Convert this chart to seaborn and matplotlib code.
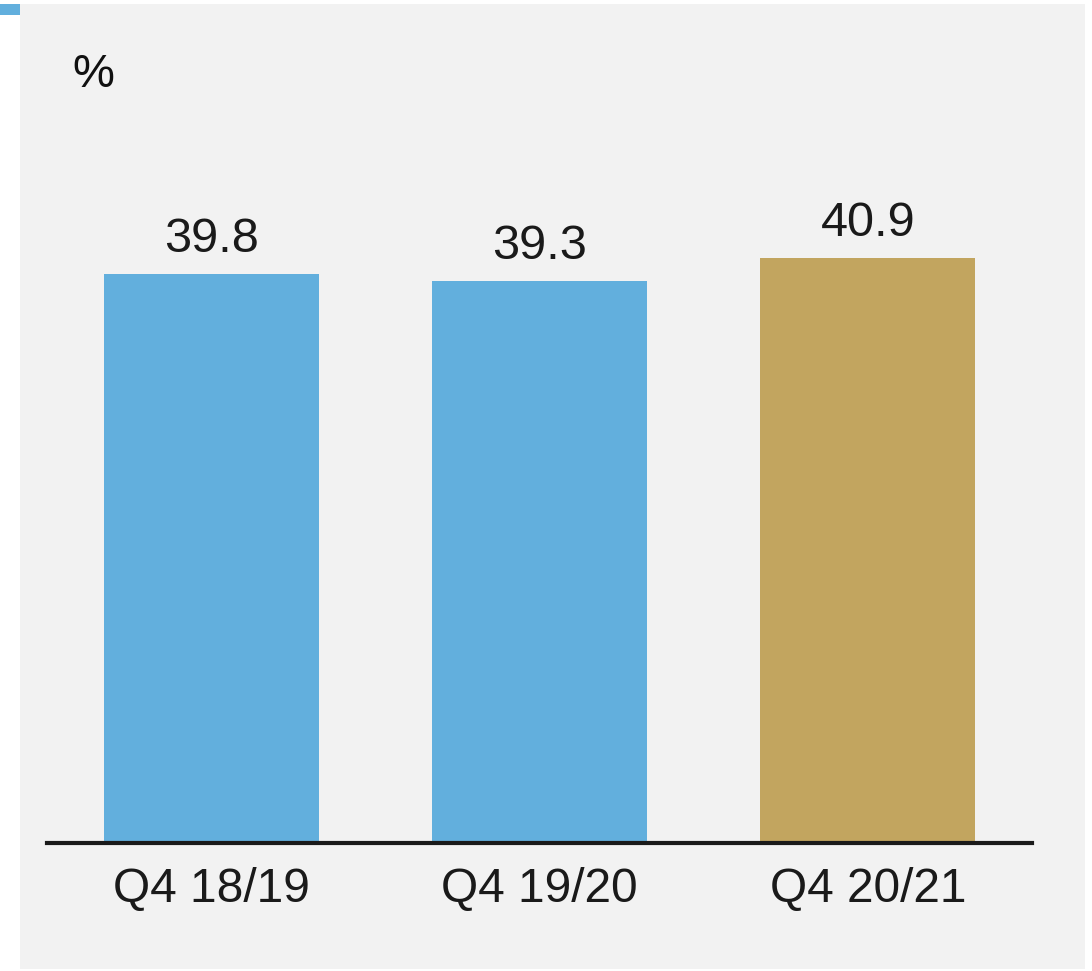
import matplotlib
matplotlib.use("Agg")
import matplotlib.pyplot as plt
import seaborn as sns
import pandas as pd
from matplotlib.patches import Rectangle

periods = ["Q4 18/19", "Q4 19/20", "Q4 20/21"]
values = [39.8, 39.3, 40.9]
bar_colors = ["#62AFDD", "#62AFDD", "#C2A55F"]

df = pd.DataFrame({"period": periods, "value": values})

sns.set_theme(style="white")
plt.rcParams["font.family"] = ["Liberation Sans", "DejaVu Sans"]

W, H = 1092, 971
fig = plt.figure(figsize=(W / 100, H / 100), dpi=100, facecolor="white")

# grey panel and small accent square, kept behind the axes
fig.patches.append(Rectangle((20 / W, 1 - 969 / H), 1065 / W, 965 / H,
                             transform=fig.transFigure, facecolor="#F2F2F2",
                             edgecolor="none", zorder=-10))
fig.patches.append(Rectangle((0, 1 - 15 / H), 20 / W, 11 / H,
                             transform=fig.transFigure, facecolor="#62AFDD",
                             edgecolor="none", zorder=-10))

ax = fig.add_axes([47 / W, 1 - 843 / H, 985 / W, 715 / H])
ax.set_facecolor("none")

sns.barplot(data=df, x="period", y="value", hue="period", palette=bar_colors,
            width=0.654, legend=False, ax=ax, saturation=1, linewidth=0)

ax.set_xlim(-0.5, 2.5)
ax.set_ylim(0, 50)
for s in ["top", "right", "left"]:
    ax.spines[s].set_visible(False)
ax.spines["bottom"].set_linewidth(3)
ax.spines["bottom"].set_color("#1A1A1A")
ax.spines["bottom"].set_zorder(5)
ax.set_yticks([])
ax.set_xlabel("")
ax.set_ylabel("")
ax.tick_params(axis="x", length=0, pad=17, labelsize=34.5, labelcolor="#1A1A1A")

for i, v in enumerate(values):
    ax.annotate(f"{v:.1f}", (i, v), xytext=(0, 16), textcoords="offset points",
                ha="center", va="baseline", fontsize=35, color="#1A1A1A")

fig.text(72 / W, 1 - 87 / H, "%", fontsize=34, color="#111111", ha="left", va="baseline")

fig.savefig("out.png", dpi=100, facecolor="white")
